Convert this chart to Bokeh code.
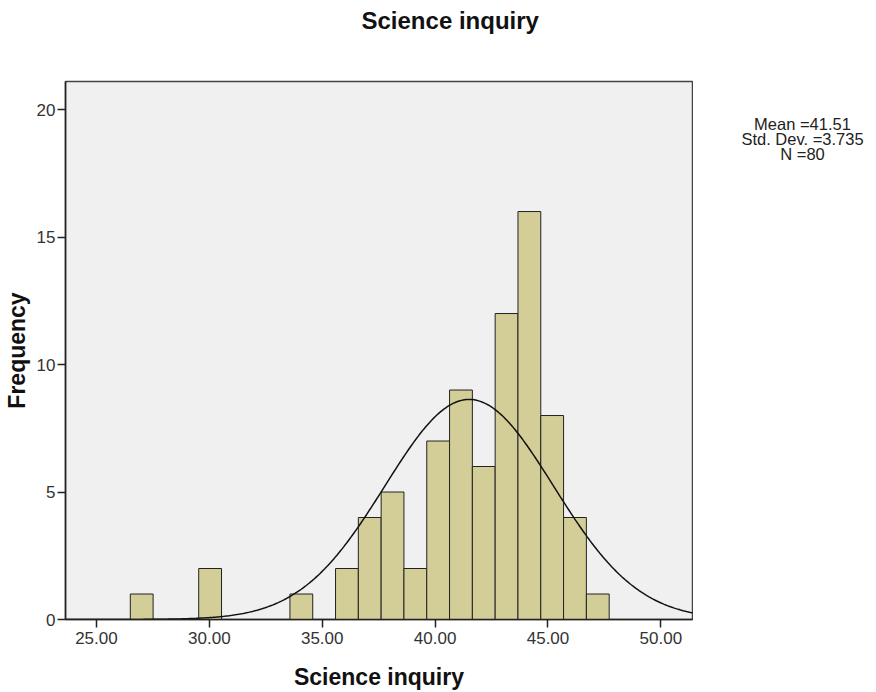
import numpy as np
from bokeh.plotting import figure
from bokeh.layouts import row
from bokeh.models import Range1d, FixedTicker, NumeralTickFormatter, Label, ColumnDataSource, Title
from bokeh.embed import file_html
from bokeh.resources import INLINE

# ---- data ----
bin_start = 26.5
bin_width = 1.01
counts = [1, 0, 0, 2, 0, 0, 0, 1, 0, 2, 4, 5, 2, 7, 9, 6, 12, 16, 8, 4, 1]
mean_val = 41.51
sd_val = 3.735
n_val = 80
x_ticks = [25, 30, 35, 40, 45, 50]
y_ticks = [0, 5, 10, 15, 20]
stats_lines = ["Mean =41.51", "Std. Dev. =3.735", "N =80"]
title_text = "Science inquiry"
x_label = "Science inquiry"
y_label = "Frequency"

FONT = "Liberation Sans"
W, H = 876, 692
MAIN_W = 693
FRAME_TOP, FRAME_BOTTOM = 81, 619

lefts = [bin_start + i * bin_width for i in range(len(counts))]
rights = [l + bin_width for l in lefts]
src = ColumnDataSource(dict(left=[l for l, c in zip(lefts, counts) if c > 0],
                            right=[r for r, c in zip(rights, counts) if c > 0],
                            top=[c for c in counts if c > 0]))

p = figure(width=MAIN_W, height=H, output_backend="svg", toolbar_location=None,
           x_range=Range1d(23.63, 51.40), y_range=Range1d(0, 21.1),
           min_border_left=65, min_border_right=1, min_border_top=FRAME_TOP,
           min_border_bottom=H - FRAME_BOTTOM)

p.title = Title(text=title_text, align="left", offset=296, standoff=0,
                text_font=FONT, text_font_size="24px", text_font_style="bold",
                text_color="#111111")
# empty spacer between the title and the plot frame
p.add_layout(Title(text=" ", text_font=FONT, text_font_size="24px", standoff=19), "above")

p.background_fill_color = "#f0f0f0"
p.border_fill_color = "white"
p.outline_line_color = "#444444"
p.outline_line_width = 1.5
p.grid.visible = False

p.quad(left="left", right="right", bottom=0, top="top", source=src,
       fill_color="#d3ce97", line_color="#222222", line_width=1)

xs = np.linspace(23.63, 51.40, 400)
ys = n_val * bin_width / (sd_val * np.sqrt(2 * np.pi)) * np.exp(-0.5 * ((xs - mean_val) / sd_val) ** 2)
p.line(xs, ys, line_color="#111111", line_width=1.5)

for ax in (p.xaxis[0], p.yaxis[0]):
    ax.axis_line_color = "#222222"
    ax.axis_line_width = 1.5
    ax.major_tick_line_color = "#222222"
    ax.major_tick_line_width = 1.5
    ax.major_tick_out = 8
    ax.major_tick_in = 0
    ax.minor_tick_line_color = None
    ax.major_label_text_font = FONT
    ax.major_label_text_font_size = "17px"
    ax.major_label_text_color = "#333333"
    ax.axis_label_text_font = FONT
    ax.axis_label_text_font_size = "23px"
    ax.axis_label_text_font_style = "bold"
    ax.axis_label_text_color = "#111111"

p.xaxis.ticker = FixedTicker(ticks=x_ticks)
p.xaxis.formatter = NumeralTickFormatter(format="0.00")
p.yaxis.ticker = FixedTicker(ticks=y_ticks)
p.xaxis.axis_label = x_label
p.yaxis.axis_label = y_label
p.xaxis.major_label_standoff = 4
p.yaxis.major_label_standoff = 2
p.xaxis.axis_label_standoff = 17
p.yaxis.axis_label_standoff = 4

# side panel with the summary statistics (its frame is aligned with the main frame)
s = figure(width=W - MAIN_W, height=H, output_backend="svg", toolbar_location=None,
           x_range=Range1d(0, W - MAIN_W), y_range=Range1d(FRAME_BOTTOM, FRAME_TOP),
           x_axis_location=None, y_axis_location=None,
           min_border_left=0, min_border_right=0, min_border_top=0, min_border_bottom=0,
           outline_line_color=None)
s.grid.visible = False
s.background_fill_color = "white"
s.border_fill_color = "white"
for i, line in enumerate(stats_lines):
    s.add_layout(Label(x=109, y=123 + 15 * i, text=line,
                       text_font=FONT, text_font_size="16.5px",
                       text_align="center", text_baseline="middle", text_color="#222222"))

layout = row(p, s, spacing=0)
open("out.html", "w").write(file_html(layout, INLINE))
